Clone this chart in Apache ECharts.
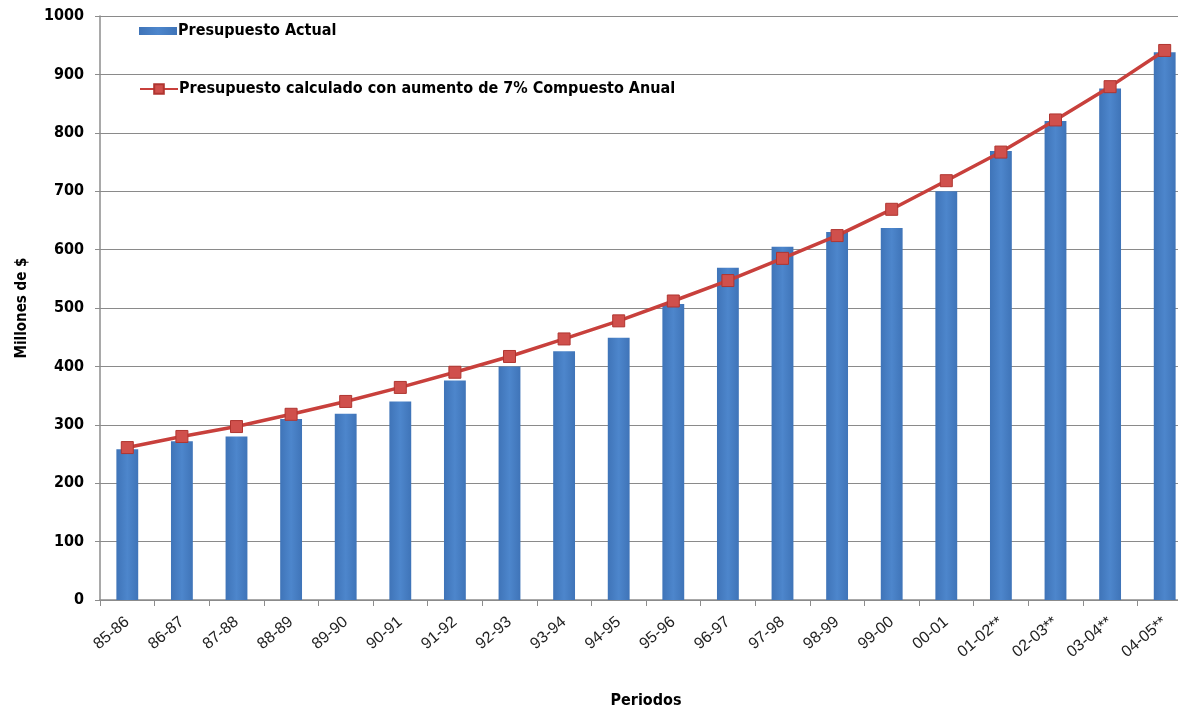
<!DOCTYPE html>
<html><head><meta charset="utf-8">
<script src="https://cdn.jsdelivr.net/npm/echarts@6/dist/echarts.min.js"></script>
<style>html,body{margin:0;padding:0;background:#fff;overflow:hidden;width:1178px;height:714px}#c{width:1192px;height:714px}</style>
</head><body><div id="c"></div>
<script>
const categories = ['85-86','86-87','87-88','88-89','89-90','90-91','91-92','92-93','93-94','94-95','95-96','96-97','97-98','98-99','99-00','00-01','01-02**','02-03**','03-04**','04-05**'];
const presupuestoActual = [258,272,280,310,319,340,376,400,426,449,507,569,605,630,637,700,769,820,876,938];
const presupuestoCalculado = [261,280,297,318,340,364,390,417,447,478,512,547,585,624,669,718,767,822,879,941];
const yTicks = [0,100,200,300,400,500,600,700,800,900,1000];

const narrowBold = '"Liberation Sans Narrow","DejaVu Sans Condensed","Arial Narrow",sans-serif';
const legendText = {fontFamily:narrowBold,fontWeight:'bold',fontSize:16,color:'#000',padding:[0,0,0,-4]};
const chart = echarts.init(document.getElementById('c'), null, {renderer:'canvas'});
chart.setOption({
  animation:false,
  backgroundColor:'#fff',
  grid:{left:100,right:0,top:16,bottom:108,containLabel:false},
  legend:[
    {left:134, top:18, itemWidth:38, itemHeight:8, textStyle:legendText,
     data:[{name:'Presupuesto Actual',icon:'rect'}]},
    {left:134, top:76, itemWidth:38, itemHeight:12, textStyle:legendText,
     data:[{name:'Presupuesto calculado con aumento de 7% Compuesto Anual'}]}
  ],
  xAxis:{
    type:'category', data:categories, boundaryGap:true,
    name:'Periodos', nameLocation:'middle', nameGap:93,
    nameTextStyle:{fontFamily:narrowBold,fontWeight:'bold',fontSize:16,color:'#000'},
    axisLine:{lineStyle:{color:'#8c8c8c',width:1.5}},
    axisTick:{show:true,alignWithLabel:false,length:6,lineStyle:{color:'#8c8c8c'}},
    axisLabel:{rotate:40,fontFamily:'"Liberation Sans",Arial,sans-serif',fontSize:16,color:'#222',margin:20,interval:0}
  },
  yAxis:{
    type:'value', min:0, max:1000, interval:100,
    name:'Millones de $', nameLocation:'middle', nameGap:70, nameRotate:90,
    nameTextStyle:{fontFamily:narrowBold,fontWeight:'bold',fontSize:15,color:'#000'},
    axisLine:{show:true,lineStyle:{color:'#8c8c8c',width:1.5}},
    axisTick:{show:true,length:5,lineStyle:{color:'#8c8c8c'}},
    axisLabel:{fontFamily:narrowBold,fontWeight:'bold',fontSize:16,color:'#000',margin:16,
      formatter:v=>yTicks.includes(v)?String(v):''},
    splitLine:{show:true,lineStyle:{color:'#8a8a8a',width:1}}
  },
  series:[
    {name:'Presupuesto Actual',type:'bar',data:presupuestoActual,barWidth:'40%',
     itemStyle:{color:new echarts.graphic.LinearGradient(0,0,1,0,[{offset:0,color:'#3f74b8'},{offset:0.5,color:'#4d86cc'},{offset:1,color:'#3f74b8'}])}},
    {name:'Presupuesto calculado con aumento de 7% Compuesto Anual',type:'line',data:presupuestoCalculado,
     symbol:'rect',symbolSize:12,
     lineStyle:{color:'#c8403c',width:3.5},
     itemStyle:{color:'#d0504c',borderColor:'#b03530',borderWidth:1}}
  ]
});
</script></body></html>
